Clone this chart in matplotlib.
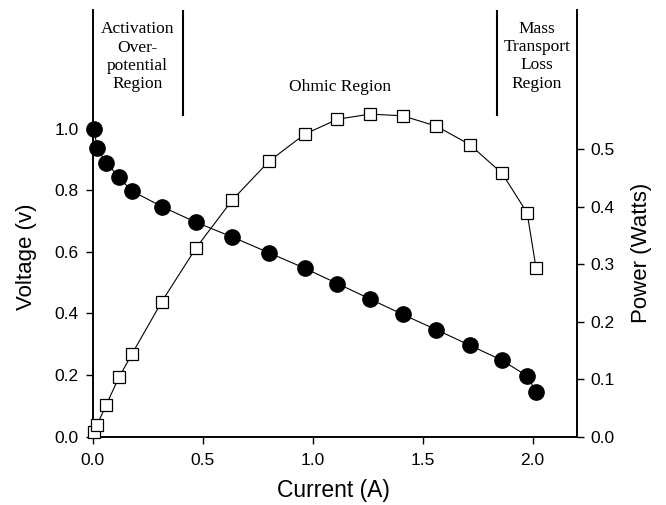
import matplotlib.pyplot as plt

# Fuel cell polarization / power curve
current = [0.008, 0.02, 0.063, 0.12, 0.178, 0.315, 0.47, 0.636, 0.802, 0.964,
           1.113, 1.261, 1.409, 1.563, 1.714, 1.861, 1.975, 2.015]
voltage = [1.0, 0.936, 0.89, 0.842, 0.798, 0.747, 0.696, 0.648, 0.597, 0.547,
           0.497, 0.447, 0.397, 0.347, 0.297, 0.248, 0.197, 0.145]
power = [0.009, 0.020, 0.056, 0.103, 0.143, 0.235, 0.328, 0.412, 0.479, 0.526,
         0.552, 0.561, 0.558, 0.540, 0.508, 0.458, 0.389, 0.294]

region_bounds = [0.41, 1.84]
region_labels = ["Activation\nOver-\npotential\nRegion", "Ohmic Region",
                 "Mass\nTransport\nLoss\nRegion"]
region_label_x = [0.205, 1.125, 2.02]
region_label_y = [1.233, 1.135, 1.235]

plt.rcParams['font.family'] = ['Liberation Sans', 'DejaVu Sans']

fig = plt.figure(figsize=(6.66, 5.05), dpi=100)
ax1 = fig.add_axes([0.1389, 0.1352, 0.727, 0.845])
ax2 = ax1.twinx()

ax1.plot(current, voltage, '-', color='black', linewidth=0.8,
         marker='o', markersize=11, markerfacecolor='black',
         markeredgecolor='black', zorder=3, clip_on=False)
ax2.plot(current, power, '-', color='black', linewidth=0.8,
         marker='s', markersize=9, markerfacecolor='white',
         markeredgecolor='black', markeredgewidth=0.9, zorder=3, clip_on=False)

ax1.set_xlim(0, 2.2)
ax1.set_ylim(0, 1.385)
ax2.set_ylim(0, 0.742)
ax1.set_xticks([0.0, 0.5, 1.0, 1.5, 2.0])
ax1.set_yticks([0.0, 0.2, 0.4, 0.6, 0.8, 1.0])
ax2.set_yticks([0.0, 0.1, 0.2, 0.3, 0.4, 0.5])
ax1.xaxis.set_major_formatter(plt.FormatStrFormatter('%.1f'))
ax1.yaxis.set_major_formatter(plt.FormatStrFormatter('%.1f'))
ax2.yaxis.set_major_formatter(plt.FormatStrFormatter('%.1f'))

for ax in (ax1, ax2):
    ax.spines['top'].set_visible(False)
    for s in ax.spines.values():
        s.set_linewidth(1.2)
    ax.tick_params(direction='out', length=5, width=1, labelsize=12.5, pad=5)
ax1.tick_params(axis='x', pad=7)

ax1.set_xlabel('Current (A)', fontsize=16.5, va='center')
ax1.set_ylabel('Voltage (v)', fontsize=16, va='center')
ax2.set_ylabel('Power (Watts)', fontsize=16, va='center')
ax1.xaxis.set_label_coords(0.497, -0.125)
ax1.yaxis.set_label_coords(-0.136, 0.421)
ax2.yaxis.set_label_coords(1.134, 0.43)

# region separators and labels
for b in region_bounds:
    ax1.axvline(b, ymin=0.754, ymax=1.0, color='black', linewidth=1.5)

for lbl, x, y in zip(region_labels, region_label_x, region_label_y):
    ax1.text(x, y, lbl, ha='center', va='center', fontsize=12.5,
             family='Liberation Serif', linespacing=1.2)

plt.savefig('out.png', dpi=100)
